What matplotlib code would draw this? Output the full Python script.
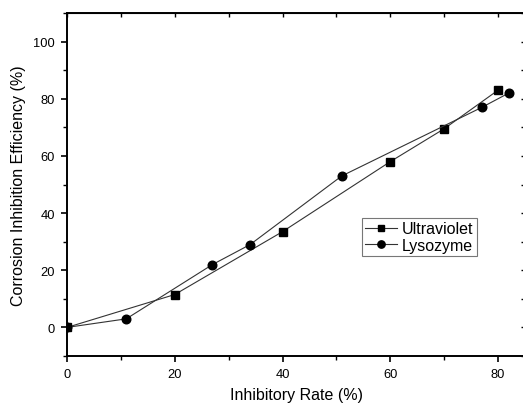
"""Corrosion inhibition efficiency vs inhibitory rate (Origin-style line + symbol plot)."""

import matplotlib

matplotlib.use("Agg")

import matplotlib.pyplot as plt  # noqa: E402
from matplotlib.ticker import MultipleLocator  # noqa: E402

plt.rcParams["font.family"] = ["Liberation Sans", "DejaVu Sans"]

uv_rate = [0, 20, 40, 60, 70, 80]
uv_eff = [0, 11.5, 33.5, 58, 69.5, 83]

lyso_rate = [0, 11, 27, 34, 51, 77, 82]
lyso_eff = [0, 3, 22, 29, 53, 77, 82]

fig = plt.figure(figsize=(5.23, 4.06), dpi=100)
W, H = 523, 406
left, right, top, bottom = 67, 525, 14, 357
ax = fig.add_axes([left / W, 1 - bottom / H, (right - left) / W, (bottom - top) / H])

ax.plot(uv_rate, uv_eff, color="#333333", lw=0.8, marker="s", ms=5.3,
        mfc="black", mec="black", label="Ultraviolet", zorder=3)
ax.plot(lyso_rate, lyso_eff, color="#333333", lw=0.8, marker="o", ms=6.2,
        mfc="black", mec="black", label="Lysozyme", zorder=3)

ax.set_xlim(0, 85)
ax.set_ylim(-10, 110)
ax.xaxis.set_major_locator(MultipleLocator(20))
ax.xaxis.set_minor_locator(MultipleLocator(10))
ax.yaxis.set_major_locator(MultipleLocator(20))
ax.yaxis.set_minor_locator(MultipleLocator(10))
ax.set_yticks([0, 20, 40, 60, 80, 100])

for s in ax.spines.values():
    s.set_linewidth(1.4)

ax.tick_params(axis="both", which="major", direction="out", length=4.5, width=1.2,
               labelsize=9.3, pad=4)
ax.tick_params(axis="both", which="minor", direction="out", length=3, width=1.0)

# mirrored axes: inward ticks, no labels
top_ax = ax.secondary_xaxis("top")
top_ax.xaxis.set_major_locator(MultipleLocator(10))
top_ax.tick_params(direction="in", length=3, width=1.0, labeltop=False)
right_ax = ax.secondary_yaxis("right")
right_ax.yaxis.set_major_locator(MultipleLocator(10))
right_ax.tick_params(direction="in", length=3, width=1.0, labelright=False)

ax.set_xlabel("Inhibitory Rate (%)", fontsize=11.5, labelpad=5)
ax.set_ylabel("Corrosion Inhibition Efficiency (%)", fontsize=11.5, labelpad=5)

leg = ax.legend(loc="upper left", bbox_to_anchor=(0.644, 0.402), borderaxespad=0,
                fontsize=11.5, frameon=True, fancybox=False, handlelength=2.0,
                handletextpad=0.3, borderpad=0.2, labelspacing=0.1, markerscale=0.85)
leg.get_frame().set_edgecolor("#555555")
leg.get_frame().set_linewidth(0.8)

fig.savefig("out.png", dpi=100)
